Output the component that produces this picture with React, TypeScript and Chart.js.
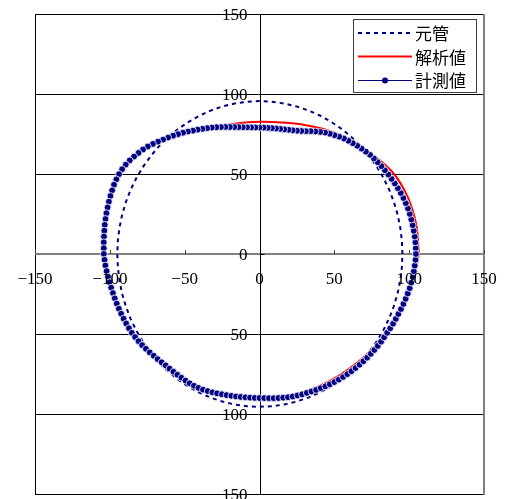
import { useEffect, useRef } from "react";
import { Chart, registerables } from "chart.js";

Chart.register(...registerables);

const X_TICKS = [-150, -100, -50, 0, 50, 100, 150];
const Y_TICKS = [-150, -100, -50, 0, 50, 100, 150];
const SERIES_NAMES = ["元管", "解析値", "計測値"];

// 元管 (original pipe) — polar samples, degrees / radius
const originalAngles = [
  0, 5, 10, 15, 20, 25, 30, 35, 40, 45, 50, 55, 60, 65, 70, 75, 80, 85, 90, 95, 100, 105, 110, 115,
  120, 125, 130, 135, 140, 145, 150, 155, 160, 165, 170, 175, 180, 185, 190, 195, 200, 205, 210, 215,
  220, 225, 230, 235, 240, 245, 250, 255, 260, 265, 270, 275, 280, 285, 290, 295, 300, 305, 310, 315,
  320, 325, 330, 335, 340, 345, 350, 355, 360,
];
const originalRadii = [
  95.5, 95.5, 95.5, 95.5, 95.5, 95.5, 95.5, 95.5, 95.5, 95.5, 95.5, 95.5, 95.5, 95.5, 95.5, 95.5, 95.5, 95.5,
  95.6, 95.5, 95.5, 95.5, 95.4, 95.3, 95.2, 95.2, 95.1, 95.1, 95.0, 95.0, 95.0, 95.0, 95.0, 95.0, 95.0, 95.0,
  95.0, 95.0, 95.0, 95.1, 95.1, 95.2, 95.2, 95.3, 95.4, 95.5, 95.5, 95.5, 95.5, 95.5, 95.5, 95.5, 95.5, 95.5,
  95.5, 95.5, 95.5, 95.5, 95.5, 95.5, 95.5, 95.5, 95.5, 95.5, 95.5, 95.5, 95.5, 95.5, 95.5, 95.5, 95.5, 95.5,
  95.5,
];

// 解析値 (analysis)
const analysisAngles = [
  0, 10, 20, 30, 40, 50, 60, 70, 80, 90, 100, 110, 120, 130, 140, 150, 160, 170, 180,
  190, 200, 210, 220, 230, 240, 250, 260, 270, 280, 290, 300, 310, 320, 330, 340, 350, 360,
];
const analysisRadii = [
  106.5, 106.3, 105.2, 102.5, 97.5, 93.5, 89.5, 86.0, 83.5, 82.6, 83.0, 84.3, 88.5, 94.3, 100.8, 105.0,
  105.8, 105.2, 104.8, 101.8, 100.0, 98.3, 95.6, 93.4, 93.1, 91.8, 90.3, 89.9, 90.4, 91.2, 92.2, 93.5,
  95.6, 97.8, 100.8, 104.0, 106.5,
];

// 計測値 (measured)
const measuredAngles = [
  0, 2, 4, 6, 8, 10, 12, 14, 16, 18, 20, 22, 24, 26, 28, 30, 32, 34, 36, 38, 40, 42, 44, 46, 48, 50,
  52, 54, 56, 58, 60, 62, 64, 66, 68, 70, 72, 74, 76, 78, 80, 82, 84, 86, 88, 90, 92, 94, 96, 98, 100,
  102, 104, 106, 108, 110, 112, 114, 116, 118, 120, 122, 124, 126, 128, 130, 132, 134, 136, 138, 140,
  142, 144, 146, 148, 150, 152, 154, 156, 158, 160, 162, 164, 166, 168, 170, 172, 174, 176, 178, 180,
  182, 184, 186, 188, 190, 192, 194, 196, 198, 200, 202, 204, 206, 208, 210, 212, 214, 216, 218, 220,
  222, 224, 226, 228, 230, 232, 234, 236, 238, 240, 242, 244, 246, 248, 250, 252, 254, 256, 258, 260,
  262, 264, 266, 268, 270, 272, 274, 276, 278, 280, 282, 284, 286, 288, 290, 292, 294, 296, 298, 300,
  302, 304, 306, 308, 310, 312, 314, 316, 318, 320, 322, 324, 326, 328, 330, 332, 334, 336, 338, 340,
  342, 344, 346, 348, 350, 352, 354, 356, 358, 360,
];
const measuredRadii = [
  104.5, 104.5, 104.4, 104.3, 104.1, 103.9, 103.7, 103.5, 103.2, 102.8, 102.3, 101.8, 101.2, 100.6, 100.0,
  99.4, 98.8, 98.2, 97.6, 97.0, 96.4, 95.6, 94.8, 94.0, 93.2, 92.4, 91.6, 90.6, 89.6, 88.6, 87.6, 86.4,
  85.2, 84.0, 82.8, 81.8, 81.0, 80.4, 80.0, 79.6, 79.4, 79.2, 79.1, 79.0, 79.0, 79.0, 79.1, 79.3, 79.6,
  80.0, 80.5, 81.1, 81.8, 82.6, 83.4, 84.3, 85.2, 86.1, 87.0, 88.0, 89.0, 90.2, 91.4, 92.6, 93.8, 95.0,
  96.2, 97.6, 99.0, 100.4, 101.6, 102.6, 103.6, 104.6, 105.4, 106.0, 106.3, 106.4, 106.4, 106.2, 106.0,
  105.8, 105.6, 105.4, 105.2, 105.0, 104.7, 104.5, 104.3, 104.1, 104.0, 103.6, 103.2, 102.7, 102.2, 101.7,
  101.3, 100.9, 100.6, 100.3, 100.0, 99.7, 99.4, 99.1, 98.8, 98.5, 98.0, 97.5, 96.9, 96.3, 95.7, 95.1,
  94.6, 94.1, 93.7, 93.5, 93.4, 93.3, 93.3, 93.3, 93.3, 93.3, 93.1, 92.8, 92.4, 92.0, 91.6, 91.2, 90.9,
  90.6, 90.4, 90.2, 90.1, 90.0, 90.0, 90.0, 90.1, 90.3, 90.6, 90.9, 91.2, 91.5, 91.8, 92.0, 92.2, 92.4,
  92.7, 93.0, 93.3, 93.7, 94.0, 94.4, 94.7, 95.0, 95.3, 95.6, 95.9, 96.2, 96.5, 96.8, 97.1, 97.4, 97.7,
  98.0, 98.2, 98.5, 98.9, 99.3, 99.7, 100.1, 100.6, 101.1, 101.6, 102.1, 102.6, 103.0, 103.4, 103.7,
  104.0, 104.3, 104.5,
];

const NAVY = "#000080";
const RED = "#ff0000";
const NUM_FONT = '17px "Liberation Serif", "Times New Roman", serif';
const CJK_FONT = '17px "Noto Sans CJK JP", "Noto Sans", sans-serif';

function toXY(angles: number[], radii: number[]) {
  return angles.map((a, i) => {
    const t = (a * Math.PI) / 180;
    return { x: radii[i] * Math.cos(t), y: radii[i] * Math.sin(t) };
  });
}

function fmt(v: number) {
  return v < 0 ? "\u2212" + Math.abs(v) : String(v);
}

const framePlugin = {
  id: "frame",
  beforeDatasetsDraw(chart: any) {
    const { ctx, chartArea: a, scales } = chart;
    const xs = scales.x;
    const ys = scales.y;
    ctx.save();
    for (const v of Y_TICKS) {
      if (v === 0) continue;
      const py = Math.round(ys.getPixelForValue(v)) + 0.5;
      ctx.strokeStyle = "#000";
      ctx.lineWidth = 1;
      ctx.beginPath();
      ctx.moveTo(a.left, py);
      ctx.lineTo(a.right, py);
      ctx.stroke();
    }
    ctx.strokeStyle = "#000";
    ctx.lineWidth = 1;
    ctx.beginPath();
    ctx.moveTo(a.left + 0.5, a.top);
    ctx.lineTo(a.left + 0.5, a.bottom);
    ctx.stroke();
    ctx.strokeStyle = "#808080";
    ctx.lineWidth = 2;
    ctx.beginPath();
    ctx.moveTo(a.right, a.top);
    ctx.lineTo(a.right, a.bottom + 1);
    ctx.stroke();
    const y0 = Math.round(ys.getPixelForValue(0));
    ctx.strokeStyle = "#808080";
    ctx.lineWidth = 2;
    ctx.beginPath();
    ctx.moveTo(a.left, y0);
    ctx.lineTo(a.right, y0);
    ctx.stroke();
    ctx.lineWidth = 1;
    ctx.strokeStyle = "#404040";
    for (const v of X_TICKS) {
      const px = Math.round(xs.getPixelForValue(v)) + 0.5;
      ctx.beginPath();
      ctx.moveTo(px, y0 - 4);
      ctx.lineTo(px, y0);
      ctx.stroke();
    }
    const x0 = Math.round(xs.getPixelForValue(0)) + 0.5;
    ctx.strokeStyle = "#000";
    ctx.lineWidth = 1;
    ctx.beginPath();
    ctx.moveTo(x0, a.top);
    ctx.lineTo(x0, a.bottom);
    ctx.stroke();
    for (const v of Y_TICKS) {
      const py = Math.round(ys.getPixelForValue(v)) + 0.5;
      ctx.beginPath();
      ctx.moveTo(x0, py);
      ctx.lineTo(x0 + 4, py);
      ctx.stroke();
    }
    ctx.restore();
  },
  afterDatasetsDraw(chart: any) {
    const { ctx, scales } = chart;
    const xs = scales.x;
    const ys = scales.y;
    const x0 = xs.getPixelForValue(0);
    const y0 = ys.getPixelForValue(0);
    ctx.save();
    ctx.font = NUM_FONT;
    ctx.fillStyle = "#000";
    ctx.textBaseline = "alphabetic";
    ctx.textAlign = "right";
    for (const v of Y_TICKS) {
      ctx.fillText(fmt(v), x0 - 12, ys.getPixelForValue(v) + 6);
    }
    ctx.textAlign = "center";
    for (const v of X_TICKS) {
      ctx.fillText(fmt(v), xs.getPixelForValue(v), y0 + 30);
    }
    ctx.restore();
  },
  afterDraw(chart: any) {
    const { ctx } = chart;
    ctx.save();
    const bx = 353.5, by = 19.5, bw = 123, bh = 73;
    ctx.fillStyle = "#fff";
    ctx.fillRect(bx, by, bw, bh);
    ctx.strokeStyle = "#404040";
    ctx.lineWidth = 1;
    ctx.strokeRect(bx, by, bw, bh);
    const rows = [33, 56.5, 80];
    const x1 = 358, x2 = 412;
    ctx.strokeStyle = NAVY;
    ctx.lineWidth = 2;
    ctx.setLineDash([4, 4]);
    ctx.beginPath();
    ctx.moveTo(x1, rows[0]);
    ctx.lineTo(x2, rows[0]);
    ctx.stroke();
    ctx.setLineDash([]);
    ctx.strokeStyle = RED;
    ctx.lineWidth = 2;
    ctx.beginPath();
    ctx.moveTo(x1, rows[1]);
    ctx.lineTo(x2, rows[1]);
    ctx.stroke();
    ctx.strokeStyle = NAVY;
    ctx.lineWidth = 1;
    ctx.beginPath();
    ctx.moveTo(x1, rows[2] + 0.5);
    ctx.lineTo(x2, rows[2] + 0.5);
    ctx.stroke();
    ctx.fillStyle = NAVY;
    ctx.beginPath();
    ctx.arc((x1 + x2) / 2, rows[2] + 0.5, 3, 0, Math.PI * 2);
    ctx.fill();
    ctx.fillStyle = "#000";
    ctx.font = CJK_FONT;
    ctx.textAlign = "left";
    ctx.textBaseline = "middle";
    SERIES_NAMES.forEach((n, i) => ctx.fillText(n, 415, rows[i] + 1));
    ctx.restore();
  },
};

export default function App() {
  const ref = useRef<HTMLCanvasElement | null>(null);
  useEffect(() => {
    if (!ref.current) return;
    const chart = new Chart(ref.current, {
      type: "scatter",
      data: {
        datasets: [
          {
            label: SERIES_NAMES[2],
            data: toXY(measuredAngles, measuredRadii),
            showLine: true,
            borderColor: NAVY,
            borderWidth: 1,
            backgroundColor: NAVY,
            pointBackgroundColor: NAVY,
            pointBorderColor: "#ffffff",
            pointBorderWidth: 0.8,
            pointRadius: 3.4,
            order: 0,
          },
          {
            label: SERIES_NAMES[1],
            data: toXY(analysisAngles, analysisRadii),
            showLine: true,
            borderColor: RED,
            borderWidth: 2,
            pointRadius: 0,
            tension: 0.4,
            order: 1,
          },
          {
            label: SERIES_NAMES[0],
            data: toXY(originalAngles, originalRadii),
            showLine: true,
            borderColor: NAVY,
            borderWidth: 2,
            borderDash: [4, 4],
            pointRadius: 0,
            order: 2,
          },
        ],
      },
      options: {
        animation: false,
        responsive: false,
        events: [],
        layout: { padding: { left: 35, right: 23, top: 14, bottom: 5 } },
        scales: {
          x: { type: "linear", min: -150, max: 150, display: false },
          y: { type: "linear", min: -150, max: 150, display: false },
        },
        plugins: { legend: { display: false }, tooltip: { enabled: false } },
      },
      plugins: [framePlugin],
    });
    return () => chart.destroy();
  }, []);
  return (
    <div style={{ position: "absolute", left: 0, top: 0, width: 507, height: 499, background: "#fff" }}>
      <canvas ref={ref} width={507} height={499} style={{ display: "block" }} />
    </div>
  );
}
